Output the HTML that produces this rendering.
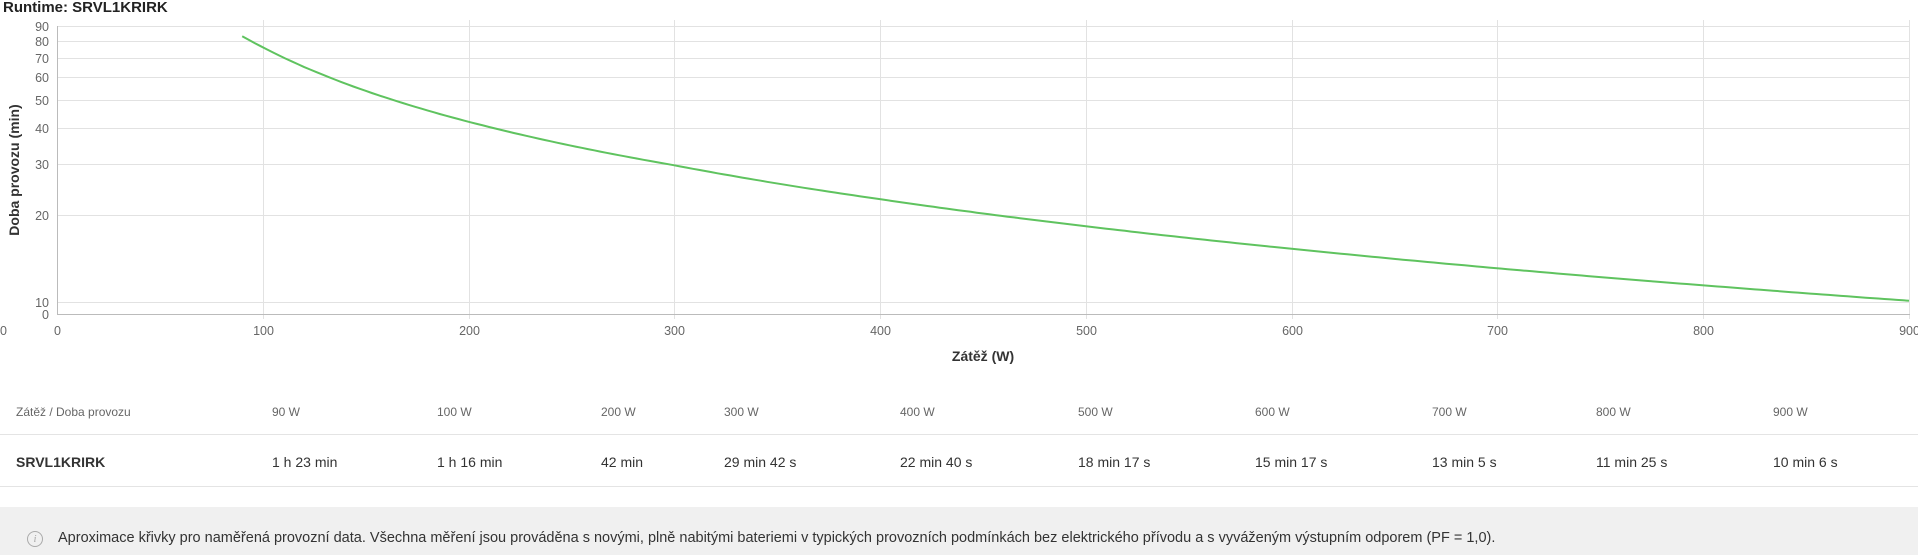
<!DOCTYPE html>
<html><head><meta charset="utf-8"><style>
body{margin:0;width:1918px;height:555px;background:#fff;font-family:"Liberation Sans",Arial,sans-serif;position:relative;overflow:hidden}
.t{position:absolute;white-space:nowrap}
.h{font-size:12px;color:#666;top:405px}
.v{font-size:14px;color:#333;top:454px}
</style></head><body>
<div class="t" style="left:3px;top:-1px;font-size:15px;font-weight:bold;color:#222">Runtime: SRVL1KRIRK</div>
<svg width="1918" height="380" style="position:absolute;left:0;top:0" font-family="Liberation Sans, Arial, sans-serif">
<g id="grid" stroke="#e2e2e2" stroke-width="1"></g>
<line x1="57.5" y1="26" x2="57.5" y2="314" stroke="#bbb"/>
<line x1="57" y1="314.5" x2="1910" y2="314.5" stroke="#bbb"/>
<g id="labels" font-size="12.5" fill="#666"></g>
<text x="0" y="335" font-size="12.5" fill="#666">0</text>
<text transform="translate(19,170) rotate(-90)" text-anchor="middle" font-size="14" font-weight="bold" fill="#333">Doba provozu (min)</text>
<text x="983" y="361" text-anchor="middle" font-size="14" font-weight="bold" fill="#333">Zátěž (W)</text>
<path id="curve" fill="none" stroke="#5fc35f" stroke-width="2"/>
</svg>
<div class="t h" style="left:16px">Zátěž / Doba provozu</div>
<div class="t h" style="left:272px">90 W</div>
<div class="t h" style="left:437px">100 W</div>
<div class="t h" style="left:601px">200 W</div>
<div class="t h" style="left:724px">300 W</div>
<div class="t h" style="left:900px">400 W</div>
<div class="t h" style="left:1078px">500 W</div>
<div class="t h" style="left:1255px">600 W</div>
<div class="t h" style="left:1432px">700 W</div>
<div class="t h" style="left:1596px">800 W</div>
<div class="t h" style="left:1773px">900 W</div>
<div style="position:absolute;left:0;top:434px;width:1918px;height:1px;background:#e4e4e4"></div>
<div class="t v" style="left:16px;font-weight:bold">SRVL1KRIRK</div>
<div class="t v" style="left:272px">1 h 23 min</div>
<div class="t v" style="left:437px">1 h 16 min</div>
<div class="t v" style="left:601px">42 min</div>
<div class="t v" style="left:724px">29 min 42 s</div>
<div class="t v" style="left:900px">22 min 40 s</div>
<div class="t v" style="left:1078px">18 min 17 s</div>
<div class="t v" style="left:1255px">15 min 17 s</div>
<div class="t v" style="left:1432px">13 min 5 s</div>
<div class="t v" style="left:1596px">11 min 25 s</div>
<div class="t v" style="left:1773px">10 min 6 s</div>
<div style="position:absolute;left:0;top:486px;width:1918px;height:1px;background:#e4e4e4"></div>
<div style="position:absolute;left:0;top:507px;width:1918px;height:48px;background:#f0f0f0"></div>
<div style="position:absolute;left:27px;top:531px;width:14px;height:14px;border:1px solid #aaa;border-radius:50%;color:#aaa;font:italic 11px 'Liberation Serif',serif;text-align:center;line-height:14px">i</div>
<div class="t" style="left:58px;top:530px;font-size:14.5px;color:#333">Aproximace křivky pro naměřená provozní data. Všechna měření jsou prováděna s novými, plně nabitými bateriemi v typických provozních podmínkách bez elektrického přívodu a s vyváženým výstupním odporem (PF = 1,0).</div>
<script>
var ns="http://www.w3.org/2000/svg";
function X(w){return 57+w*(1852/900);}
function Y(v){return 302-125.6*Math.log(v/10);}
var g=document.getElementById('grid'),lb=document.getElementById('labels');
function el(p,t,a,txt){var e=document.createElementNS(ns,t);for(var k in a)e.setAttribute(k,a[k]);if(txt!=null)e.textContent=txt;p.appendChild(e);}
[10,20,30,40,50,60,70,80,90].forEach(function(v){var y=Math.round(Y(v))+0.5;el(g,'line',{x1:57,x2:1910,y1:y,y2:y});el(lb,'text',{x:49,y:y+4.5,'text-anchor':'end'},v);});
el(lb,'text',{x:49,y:319,'text-anchor':'end'},0);
for(var i=0;i<=9;i++){var x=Math.round(X(i*100))+0.5;if(i>0)el(g,'line',{x1:x,x2:x,y1:20,y2:319});el(lb,'text',{x:x,y:335,'text-anchor':'middle'},i*100);}
var P=[[90,83],[100,76],[200,42],[300,29.7],[400,22.67],[500,18.28],[600,15.28],[700,13.08],[800,11.42],[900,10.1]];
var d='';
for(var w=90;w<=900;w+=3){var j=0;while(j<P.length-2&&w>P[j+1][0])j++;var a=P[j],b=P[j+1];var t=(Math.log(w)-Math.log(a[0]))/(Math.log(b[0])-Math.log(a[0]));var v=Math.exp(Math.log(a[1])+t*(Math.log(b[1])-Math.log(a[1])));d+=(d?'L':'M')+X(w).toFixed(1)+' '+Y(v).toFixed(1);}
document.getElementById('curve').setAttribute('d',d);
</script>
</body></html>
